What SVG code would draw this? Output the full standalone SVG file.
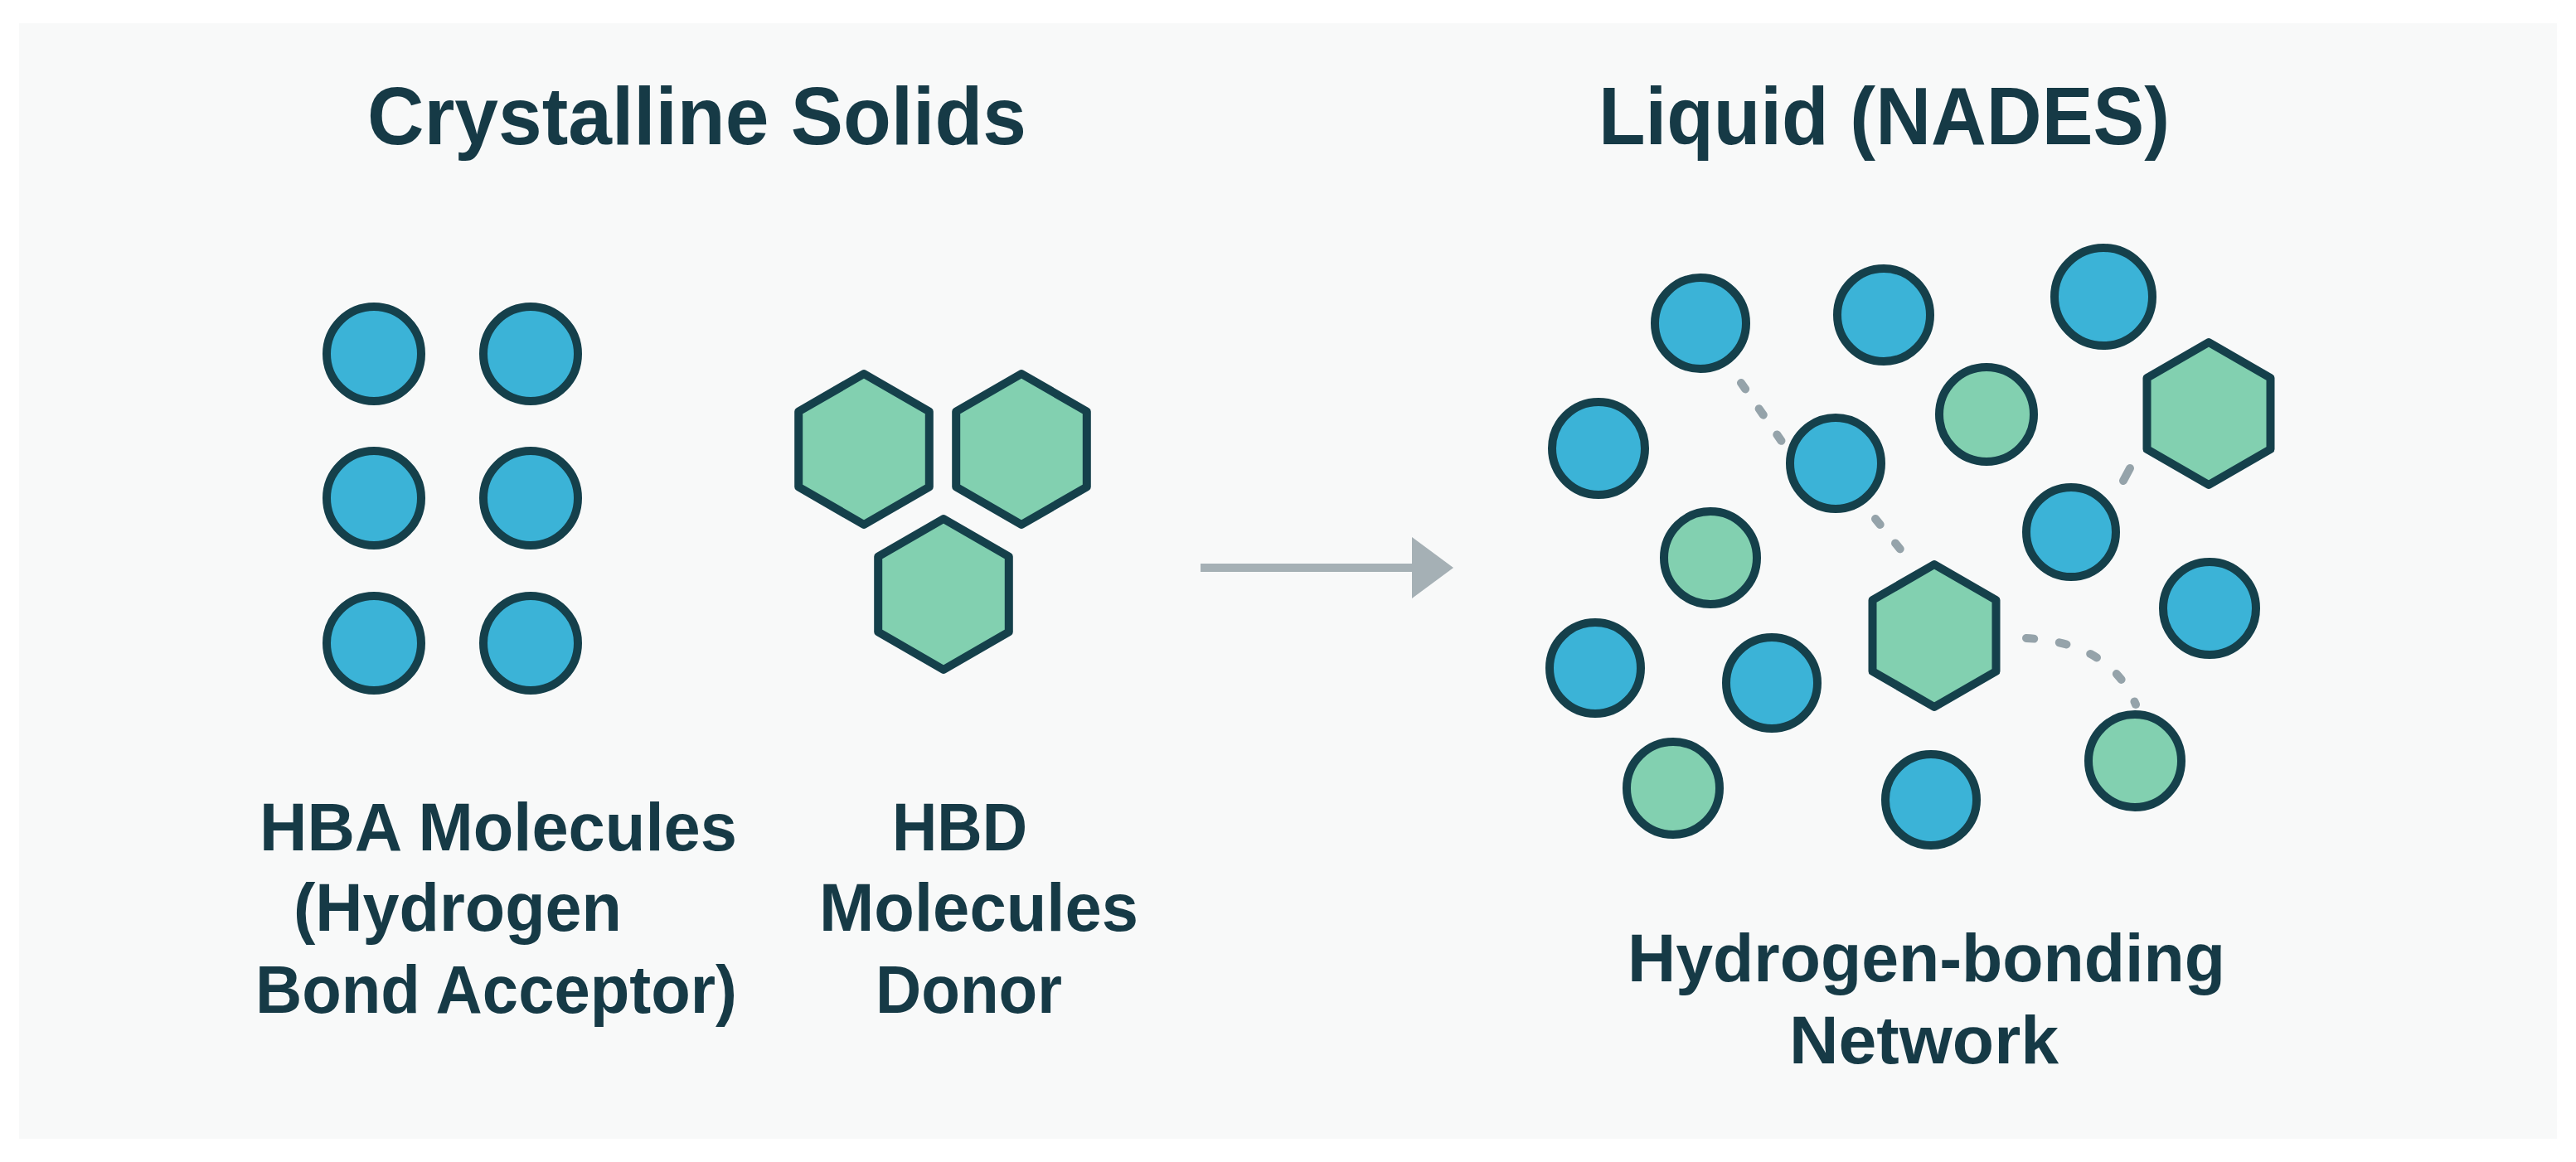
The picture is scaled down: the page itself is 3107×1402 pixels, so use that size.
<svg xmlns="http://www.w3.org/2000/svg" width="3107" height="1402" viewBox="0 0 3107 1402">
  <style>
    .blue { fill: #3bb3d7; stroke: #15404b; stroke-width: 10; }
    .green { fill: #82d0b0; stroke: #15404b; stroke-width: 10; stroke-linejoin: round; }
    .title { font-family: "Liberation Sans", Arial, sans-serif; font-weight: bold; font-size: 98px; fill: #163a46; }
    .label { font-family: "Liberation Sans", Arial, sans-serif; font-weight: bold; font-size: 82px; fill: #163a46; }
    .hbond { fill: none; stroke: #95a3aa; stroke-width: 10; stroke-linecap: round; }
  </style>
  <defs>
    <polygon id="hexL" points="0,-91 78.8,-45.5 78.8,45.5 0,91 -78.8,45.5 -78.8,-45.5"/>
    <polygon id="hexR" points="0,-86 74.5,-43 74.5,43 0,86 -74.5,43 -74.5,-43"/>
    <marker id="arrowhead" viewBox="0 0 50 74" markerWidth="50" markerHeight="74" markerUnits="userSpaceOnUse" refX="2" refY="37" orient="auto">
      <path d="M0,0 L50,37 L0,74 Z" fill="#a5b0b5"/>
    </marker>
  </defs>

  <rect x="0" y="0" width="3107" height="1402" fill="#ffffff"/>
  <rect x="23" y="28" width="3061" height="1346" fill="#f8f9f9"/>

  <g id="titles">
    <text id="title-solids" class="title" x="443" y="174" textLength="795" lengthAdjust="spacingAndGlyphs">Crystalline Solids</text>
    <text id="title-liquid" class="title" x="1928" y="174" textLength="689" lengthAdjust="spacingAndGlyphs">Liquid (NADES)</text>
  </g>

  <g id="connectors">
    <line id="transition-arrow" x1="1448" y1="685" x2="1705" y2="685" stroke="#a5b0b5" stroke-width="10" marker-end="url(#arrowhead)"/>
    <path class="hbond" d="M2100,462 L2152,537" stroke-dasharray="9 29"/>
    <path class="hbond" d="M2262,626 L2298,670" stroke-dasharray="9 29"/>
    <path class="hbond" d="M2561,580 L2569,565"/>
    <path class="hbond" d="M2444,770 Q2545,775 2576,850" stroke-dasharray="9 31"/>
  </g>

  <g id="hba-molecules">
    <circle class="blue" cx="451" cy="427" r="57"/>
    <circle class="blue" cx="640" cy="427" r="57"/>
    <circle class="blue" cx="451" cy="601" r="57"/>
    <circle class="blue" cx="640" cy="601" r="57"/>
    <circle class="blue" cx="451" cy="776" r="57"/>
    <circle class="blue" cx="640" cy="776" r="57"/>
  </g>

  <g id="hbd-molecules">
    <use href="#hexL" class="green" x="1042" y="542"/>
    <use href="#hexL" class="green" x="1232" y="542"/>
    <use href="#hexL" class="green" x="1138" y="717"/>
  </g>

  <g id="hba-label">
    <text class="label" x="313" y="1026" textLength="576" lengthAdjust="spacingAndGlyphs">HBA Molecules</text>
    <text class="label" x="354" y="1123" textLength="396" lengthAdjust="spacingAndGlyphs">(Hydrogen</text>
    <text class="label" x="308" y="1222" textLength="581" lengthAdjust="spacingAndGlyphs">Bond Acceptor)</text>
  </g>

  <g id="hbd-label">
    <text class="label" x="1076" y="1026" textLength="163" lengthAdjust="spacingAndGlyphs">HBD</text>
    <text class="label" x="988" y="1123" textLength="385" lengthAdjust="spacingAndGlyphs">Molecules</text>
    <text class="label" x="1056" y="1222" textLength="225" lengthAdjust="spacingAndGlyphs">Donor</text>
  </g>

  <g id="nades-network">
    <circle class="blue" cx="2051" cy="390" r="55"/>
    <circle class="blue" cx="2272" cy="380" r="56"/>
    <circle class="blue" cx="2537" cy="358" r="59"/>
    <circle class="blue" cx="1928" cy="541" r="56"/>
    <circle class="blue" cx="2214" cy="559" r="55"/>
    <circle class="blue" cx="2498" cy="642" r="54"/>
    <circle class="blue" cx="2665" cy="734" r="56"/>
    <circle class="blue" cx="1924" cy="806" r="55"/>
    <circle class="blue" cx="2137" cy="824" r="55"/>
    <circle class="blue" cx="2329" cy="965" r="55"/>
    <circle class="green" cx="2396" cy="500" r="57"/>
    <circle class="green" cx="2063" cy="673" r="56"/>
    <circle class="green" cx="2018" cy="951" r="56"/>
    <circle class="green" cx="2575" cy="918" r="56"/>
    <use href="#hexR" class="green" x="2664" y="499"/>
    <use href="#hexR" class="green" x="2333" y="767"/>
  </g>

  <g id="network-label">
    <text class="label" x="1963" y="1184" textLength="721" lengthAdjust="spacingAndGlyphs">Hydrogen-bonding</text>
    <text class="label" x="2158" y="1283" textLength="325" lengthAdjust="spacingAndGlyphs">Network</text>
  </g>
</svg>
